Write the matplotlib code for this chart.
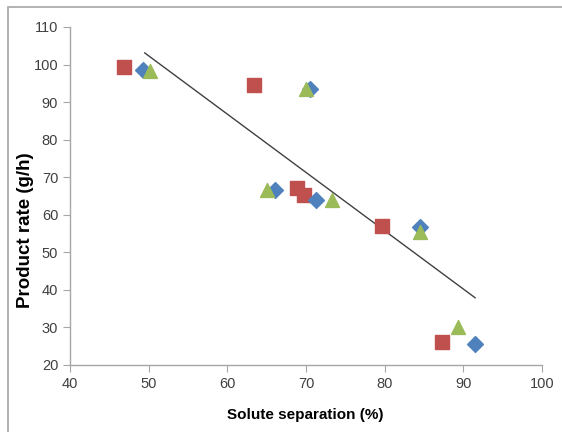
import matplotlib
matplotlib.use("Agg")
import matplotlib.pyplot as plt
from matplotlib.patches import Rectangle

# Data
blue_x = [49.3, 70.5, 66.0, 71.3, 84.5, 91.5]
blue_y = [98.6, 93.5, 66.6, 64.0, 56.8, 25.7]
red_x = [46.9, 63.4, 68.8, 69.7, 79.6, 87.3]
red_y = [99.4, 94.6, 67.2, 65.3, 57.1, 26.0]
green_x = [50.2, 70.0, 65.0, 73.3, 84.5, 89.3]
green_y = [98.3, 93.5, 66.6, 64.0, 55.5, 30.0]
trend_x = [49.5, 91.5]
trend_y = [103.1, 37.9]
x_ticks = [40, 50, 60, 70, 80, 90, 100]
y_ticks = [20, 30, 40, 50, 60, 70, 80, 90, 100, 110]

plt.rcParams['font.family'] = ['Liberation Sans', 'DejaVu Sans']

fig = plt.figure(figsize=(5.62, 4.32), dpi=100)
fig.patches.append(Rectangle((8/562, -0.1), 1.2, (432-7)/432 + 0.1, transform=fig.transFigure,
                             fill=False, edgecolor='#A6A6A6', linewidth=1.2))
ax = fig.add_axes([70/562, (432-365)/432, 472/562, 338/432])

ax.plot(trend_x, trend_y, color='#404040', linewidth=1.0, zorder=3)
ax.scatter(red_x, red_y, marker='s', s=100, color='#C0504D', zorder=4)
ax.scatter(blue_x, blue_y, marker='D', s=65, color='#4F81BD', zorder=4)
ax.scatter(green_x, green_y, marker='^', s=100, color='#9BBB59', zorder=5)

ax.set_xlim(40, 100)
ax.set_ylim(20, 110)
ax.set_xticks(x_ticks)
ax.set_yticks(y_ticks)
for s in ['top', 'right']:
    ax.spines[s].set_visible(False)
for s in ['left', 'bottom']:
    ax.spines[s].set_color('#A6A6A6')
    ax.spines[s].set_linewidth(1.0)
ax.tick_params(axis='both', direction='out', length=5, color='#A6A6A6', labelsize=10.5,
               labelcolor='#404040')
ax.set_xlabel('Solute separation (%)', fontsize=11, fontweight='bold')
ax.set_ylabel('Product rate (g/h)', fontsize=13.5, fontweight='bold')
ax.xaxis.set_label_coords(0.498, -0.148)
ax.yaxis.set_label_coords(-0.095, 0.40)
ax.yaxis.label.set_va('center')
ax.xaxis.label.set_va('center')

fig.savefig('out.png', dpi=100)
